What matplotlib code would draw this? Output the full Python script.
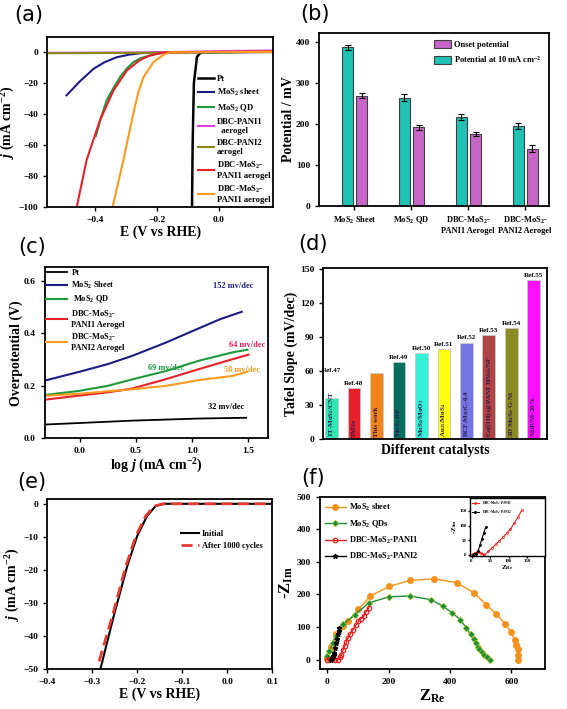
import matplotlib
matplotlib.use('Agg')
import matplotlib.pyplot as plt
import numpy as np

plt.rcParams['font.family'] = ['Liberation Serif', 'DejaVu Serif']
plt.rcParams['font.weight'] = 'bold'
plt.rcParams['axes.labelweight'] = 'bold'
plt.rcParams['mathtext.fontset'] = 'custom'
plt.rcParams['mathtext.rm'] = 'Liberation Serif:bold'
plt.rcParams['mathtext.it'] = 'Liberation Serif:bold:italic'
plt.rcParams['mathtext.bf'] = 'Liberation Serif:bold'
plt.rcParams['axes.linewidth'] = 1.3
plt.rcParams['xtick.major.width'] = 1.0
plt.rcParams['ytick.major.width'] = 1.0
plt.rcParams['xtick.major.size'] = 3
plt.rcParams['ytick.major.size'] = 3
plt.rcParams['xtick.labelsize'] = 6.8
plt.rcParams['ytick.labelsize'] = 6.8

# ---- (a) polarisation curves
pt_E = [0.177, -0.05, -0.06, -0.07, -0.08, -0.084, -0.086]
pt_j = [0.3, 0, -0.5, -3, -20, -60, -100]
sheet_E = [-0.492, -0.45, -0.405, -0.37, -0.33, -0.29, -0.254, -0.22, -0.2, 0.177]
sheet_j = [-27.8, -19, -10.7, -6.5, -3.2, -1.5, -0.6, -0.2, 0, 0.3]
qd_E = [-0.397, -0.38, -0.362, -0.34, -0.319, -0.297, -0.276, -0.25, -0.222, -0.2, -0.18, 0.177]
qd_j = [-54, -42, -31, -23, -16, -10.5, -6.4, -3.6, -2, -1, -0.2, 0.5]
pani1_E = [-0.555, -0.2, 0.0, 0.177]
pani1_j = [-0.3, 0, 0.8, 1.2]
pani2_E = [-0.555, -0.2, 0.0, 0.177]
pani2_j = [-0.6, -0.3, 0.2, 0.5]
mp1_E = [-0.459, -0.427, -0.384, -0.34, -0.297, -0.254, -0.225, -0.2, -0.168, 0.177]
mp1_j = [-100, -69.6, -44, -24.6, -11.8, -4.9, -2.3, -1, 0, 0.5]
mp2_E = [-0.343, -0.308, -0.276, -0.26, -0.243, -0.211, -0.178, -0.157, 0.177]
mp2_j = [-100, -69.6, -39.6, -26, -16, -6.4, -1.5, 0, 0.3]

# ---- (b) onset / 10 mA potentials
b_cats = ['MoS$_2$ Sheet', 'MoS$_2$ QD', 'DBC-MoS$_2$-\nPANI1 Aerogel', 'DBC-MoS$_2$-\nPANI2 Aerogel']
pot10 = [388, 265, 218, 196]
pot10_err = [6, 8, 8, 7]
onset = [270, 192, 175, 140]
onset_err = [5, 6, 5, 8]

# ---- (c) Tafel plots
t_pt_x = [-0.31, 0.47, 1.06, 1.48]
t_pt_y = [0.052, 0.067, 0.075, 0.078]
t_sheet_x = [-0.31, 0.0, 0.25, 0.47, 0.77, 1.06, 1.25, 1.44]
t_sheet_y = [0.22, 0.254, 0.283, 0.315, 0.366, 0.42, 0.455, 0.483]
t_qd_x = [-0.31, 0.0, 0.25, 0.47, 0.77, 1.06, 1.36, 1.49]
t_qd_y = [0.165, 0.181, 0.2, 0.225, 0.257, 0.296, 0.328, 0.338]
t_mp1_x = [-0.31, 0.0, 0.25, 0.47, 0.77, 1.06, 1.36, 1.5]
t_mp1_y = [0.147, 0.163, 0.175, 0.19, 0.226, 0.264, 0.302, 0.319]
t_mp2_x = [-0.31, 0.0, 0.47, 0.77, 1.06, 1.36, 1.49]
t_mp2_y = [0.162, 0.17, 0.187, 0.2, 0.222, 0.238, 0.254]

# ---- (d) Tafel slope comparison
d_names = ['1T-MoS$_2$/CNT', 'TMSe', 'This work', 'MoS$_2$-BP', 'MoS$_2$/MoO$_3$',
           'Au$_{25}$/MoS$_2$', 'BCF/Mo$_2$C-0.4', 'Co(OH)$_2$@PANI HNss/NF',
           '3D MoS$_2$-G-Ni', 'Ni$_2$P/Ni-20%']
d_refs = ['Ref.47', 'Ref.48', '', 'Ref.49', 'Ref.50', 'Ref.51', 'Ref.52', 'Ref.53', 'Ref.54', 'Ref.55']
d_slopes = [36, 45, 58, 68, 76, 79, 85, 92, 98, 140]
d_colors = ['#30e8b4', '#e8202a', '#f08418', '#00705e', '#34f0d4',
            '#ffff10', '#7474e4', '#b04444', '#8c8c24', '#ff10ff']

# ---- (e) stability
e_E = [-0.2815, -0.252, -0.222, -0.2, -0.178, -0.159, -0.14, 0.1]
e_j = [-50, -34, -18.9, -9.8, -3.7, -0.7, 0, 0]
e2_E = [-0.2845, -0.255, -0.225, -0.203, -0.181, -0.162, -0.143, 0.1]
e2_j = [-47.7, -34, -18.9, -9.8, -3.7, -0.7, 0, 0]

# ---- (f) Nyquist
f_sheet_x = [0, 10, 28, 51, 67, 101, 140, 202, 270, 348, 421, 478, 517, 551, 579, 599, 610, 616, 620, 622, 622]
f_sheet_y = [5, 40, 77, 102, 118, 154, 195, 225, 243, 248, 236, 205, 169, 140, 110, 84, 61, 46, 31, 15, 0]
f_qd_x = [0, 6, 17, 28, 51, 90, 135, 202, 270, 337, 377, 407, 433, 453, 467, 477, 484, 490, 495, 503, 512, 520, 529]
f_qd_y = [10, 26, 51, 72, 108, 138, 174, 193, 195, 184, 164, 143, 123, 97, 77, 62, 51, 40, 31, 22, 15, 8, 0]
f_p1_x = [0, 8, 16, 25, 34, 40, 45, 50, 56, 62, 67, 75, 84, 92, 101, 110, 118, 126, 135]
f_p1_y = [0, 3, 2, 0, 0, 8, 15, 28, 41, 55, 67, 80, 92, 105, 118, 126, 133, 146, 159]
f_p2_x = [10, 14, 17, 20, 22, 25, 28, 31, 34, 37, 39]
f_p2_y = [0, 5, 10, 15, 20, 35, 51, 64, 77, 88, 97]
in_p1_x = [0, 5, 10, 15, 20, 25, 30, 35, 45, 55, 65, 75, 85, 95, 105, 115, 125, 136]
in_p1_y = [0, 4, 8, 10, 9, 6, 2, 0, 12, 24, 36, 48, 61, 74, 88, 108, 128, 153]
in_p2_x = [3, 8, 13, 18, 23, 28, 33, 38]
in_p2_y = [0, 2, 5, 15, 35, 55, 75, 94]

fig = plt.figure(figsize=(5.67, 7.09), dpi=100)


def panel_label(x, y, s):
    fig.text(x, y, s, fontsize=15, family='DejaVu Sans', weight='normal', ha='center', va='center')


# (a)
ax = fig.add_axes([0.083, 0.708, 0.399, 0.240])
ax.plot(pt_E, pt_j, color='black', lw=1.8, label='Pt')
ax.plot(sheet_E, sheet_j, color='#1c1c84', lw=1.5, label='MoS$_2$ sheet')
ax.plot(qd_E, qd_j, color='#1e9a3c', lw=1.5, label='MoS$_2$ QD')
ax.plot(pani1_E, pani1_j, color='#e040e0', lw=1.5, label='DBC-PANI1\n  aerogel')
ax.plot(pani2_E, pani2_j, color='#8a8a10', lw=1.5, label='DBC-PANI2\naerogel')
ax.plot(mp1_E, mp1_j, color='#e8202a', lw=1.5, label='DBC-MoS$_2$-\nPANI1 aerogel')
ax.plot(mp2_E, mp2_j, color='#ff9a20', lw=1.5, label='DBC-MoS$_2$-\nPANI1 aerogel')
ax.set_xlim(-0.555, 0.177)
ax.set_ylim(-100, 10)
ax.set_xticks([-0.4, -0.2, 0.0])
ax.set_yticks([0, -20, -40, -60, -80, -100])
ax.set_xlabel('E (V vs RHE)', fontsize=10, labelpad=1)
ax.set_ylabel('$j$ (mA cm$^{-2}$)', fontsize=10, labelpad=1)
ax.legend(loc='lower right', fontsize=6.2, frameon=True, framealpha=1, edgecolor='none',
          handlelength=1.8, handletextpad=0.4, labelspacing=0.45, borderpad=0.2,
          borderaxespad=0.1, fancybox=False)
panel_label(0.051, 0.979, '(a)')

# (b)
ax = fig.add_axes([0.563, 0.7095, 0.406, 0.244])
xb = np.arange(len(b_cats))
ax.bar(xb + 0.25, onset, 0.19, yerr=onset_err, color='#c866c8', edgecolor='#404040', lw=0.8,
       capsize=2, error_kw=dict(lw=0.8, capthick=0.8), label='Onset potential')
ax.bar(xb, pot10, 0.19, yerr=pot10_err, color='#1fc2b4', edgecolor='#404040', lw=0.8,
       capsize=2, error_kw=dict(lw=0.8, capthick=0.8), label='Potential at 10 mA cm$^{-2}$')
ax.set_xticks(xb + 0.12)
ax.set_xticklabels(b_cats, fontsize=6)
ax.set_xlim(-0.5, 3.55)
ax.set_ylim(0, 423)
ax.set_yticks([0, 100, 200, 300, 400])
ax.set_ylabel('Potential / mV', fontsize=10, labelpad=1)
ax.legend(loc='upper right', fontsize=6, frameon=False, handlelength=2.0, handleheight=1.1,
          handletextpad=0.4, labelspacing=0.6)
panel_label(0.556, 0.980, '(b)')

# (c)
ax = fig.add_axes([0.079, 0.382, 0.393, 0.241])
ax.plot(t_pt_x, t_pt_y, color='black', lw=1.3, label='Pt')
ax.plot(t_sheet_x, t_sheet_y, color='#1c1c84', lw=1.5, label='MoS$_2$ Sheet')
ax.plot(t_qd_x, t_qd_y, color='#1e9a3c', lw=1.5, label=' MoS$_2$ QD')
ax.plot(t_mp1_x, t_mp1_y, color='#e8202a', lw=1.5, label='DBC-MoS$_2$-\nPANI1 Aerogel')
ax.plot(t_mp2_x, t_mp2_y, color='#ff9a20', lw=1.5, label='DBC-MoS$_2$-\nPANI2 Aerogel')
ax.text(1.36, 0.58, '152 mv/dec', color='#1c1c84', fontsize=6, ha='center', va='center')
ax.text(1.49, 0.357, '64 mv/dec', color='#e8205a', fontsize=6, ha='center', va='center')
ax.text(0.77, 0.268, '69 mv/dec', color='#1e9a3c', fontsize=6, ha='center', va='center')
ax.text(1.44, 0.26, '58 mv/dec', color='#ff9a20', fontsize=6, ha='center', va='center')
ax.text(1.3, 0.12, '32 mv/dec', color='black', fontsize=6, ha='center', va='center')
ax.set_xlim(-0.31, 1.67)
ax.set_ylim(0, 0.653)
ax.set_xticks([0.0, 0.5, 1.0, 1.5])
ax.set_yticks([0.0, 0.2, 0.4, 0.6])
ax.set_xlabel('log $j$ (mA cm$^{-2}$)', fontsize=10, labelpad=1)
ax.set_ylabel('Overpotential (V)', fontsize=10, labelpad=1)
ax.legend(loc='upper left', fontsize=6, frameon=False, handlelength=2.5, handletextpad=0.5,
          labelspacing=0.35, borderaxespad=0.1, borderpad=0.1)
panel_label(0.056, 0.652, '(c)')

# (d)
ax = fig.add_axes([0.570, 0.381, 0.395, 0.241])
xd = np.arange(len(d_slopes))
ax.bar(xd, d_slopes, 0.56, color=d_colors, edgecolor='#c8c8c8', lw=0.6)
for i, (v, r, n) in enumerate(zip(d_slopes, d_refs, d_names)):
    ry = 58 if i == 0 else v + 2
    if r:
        ax.text(i, ry, r, fontsize=5, ha='center', va='bottom')
    ax.text(i, 2, n, fontsize=5, rotation=90, ha='center', va='bottom', color='#301850')
ax.set_xlim(-0.37, 9.6)
ax.set_ylim(0, 151)
ax.set_xticks([])
ax.set_yticks([0, 30, 60, 90, 120, 150])
ax.set_xlabel('Different catalysts', fontsize=10, labelpad=4)
ax.set_ylabel('Tafel Slope (mV/dec)', fontsize=10, labelpad=1)
panel_label(0.552, 0.656, '(d)')

# (e)
ax = fig.add_axes([0.083, 0.0564, 0.397, 0.240])
ax.plot(e_E, e_j, color='black', lw=1.5, label='Initial')
ax.plot(e2_E, e2_j, color='#e83a30', lw=2.0, dashes=(4, 2), label='After 1000 cycles')
ax.set_xlim(-0.4, 0.1)
ax.set_ylim(-50, 1.5)
ax.set_xticks([-0.4, -0.3, -0.2, -0.1, 0.0, 0.1])
ax.set_yticks([0, -10, -20, -30, -40, -50])
ax.set_xlabel('E (V vs RHE)', fontsize=10, labelpad=1)
ax.set_ylabel('$j$ (mA cm$^{-2}$)', fontsize=10, labelpad=1)
ax.legend(loc='upper right', bbox_to_anchor=(0.99, 0.86), fontsize=6, frameon=False,
          handlelength=2.2, handletextpad=0.3, labelspacing=0.5)
panel_label(0.056, 0.320, '(e)')

# (f)
ax = fig.add_axes([0.564, 0.0564, 0.397, 0.243])
ax.plot(f_sheet_x, f_sheet_y, color='#f5921e', lw=1.0, marker='o', ms=4, label='MoS$_2$ sheet')
ax.plot(f_qd_x, f_qd_y, color='#1e8a3c', lw=1.0, marker='D', ms=3.5, mec='#c8d820', mew=0.4,
        label='MoS$_2$ QDs')
ax.plot(f_p1_x, f_p1_y, color='#e82020', lw=1.0, marker='o', ms=3.2, mfc='none', mew=0.9,
        label='DBC-MoS$_2$-PANI1')
ax.plot(f_p2_x, f_p2_y, color='black', lw=1.0, marker='*', ms=3.5, label='DBC-MoS$_2$-PANI2')
ax.set_xlim(-25, 709)
ax.set_ylim(-29, 500)
ax.set_xticks([0, 200, 400, 600])
ax.set_yticks([0, 100, 200, 300, 400, 500])
ax.set_xlabel('Z$_{\\mathrm{Re}}$', fontsize=12, labelpad=1)
ax.set_ylabel('-Z$_{\\mathrm{Im}}$', fontsize=12, labelpad=1)
ax.legend(loc='upper left', fontsize=6, frameon=False, handlelength=2.5, handletextpad=0.4,
          labelspacing=0.62, borderaxespad=0.2)
panel_label(0.552, 0.326, '(f)')

ins = fig.add_axes([0.829, 0.216, 0.132, 0.082])
ins.plot(in_p1_x, in_p1_y, color='#e82020', lw=0.8, marker='o', ms=1.5, mfc='none', mew=0.5,
         label='DBC-MoS$_2$-PANI1')
ins.plot(in_p2_x, in_p2_y, color='black', lw=0.8, marker='*', ms=1.5, label='DBC-MoS$_2$-PANI2')
ins.set_xlim(-4, 198)
ins.set_ylim(-3, 195)
ins.set_xticks([0, 50, 100, 150])
ins.set_yticks([0, 50, 100, 150])
ins.tick_params(labelsize=3.5, length=1.5, pad=1)
for s in ins.spines.values():
    s.set_linewidth(1.0)
ins.set_xlabel('Z$_{\\mathrm{Re}}$', fontsize=5, labelpad=0)
ins.set_ylabel('-Z$_{\\mathrm{Im}}$', fontsize=5, labelpad=0)
ins.legend(loc='upper left', fontsize=2.5, frameon=False, handlelength=2, labelspacing=0.3,
           borderaxespad=0.1)

fig.savefig('out.png', dpi=100)
